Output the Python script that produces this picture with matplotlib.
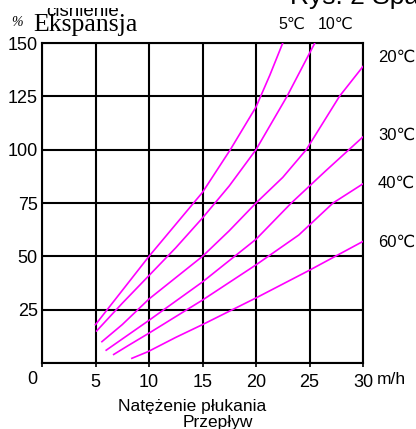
import matplotlib
matplotlib.use("Agg")
import matplotlib.pyplot as plt
from matplotlib.patches import Rectangle

# przepływ [m/h] vs ekspansja [%]
x_5c = [5.0, 7.5, 10.0, 12.5, 15.0, 17.6, 20.0, 21.3, 22.5]
y_5c = [18, 34, 50, 65, 80, 100, 120, 135, 150]
x_10c = [5.1, 7.5, 10.0, 12.5, 15.0, 17.5, 20.0, 22.9, 25.5]
y_10c = [15, 28, 41, 54, 68, 83, 100, 125, 150]
x_20c = [5.6, 7.5, 10.0, 12.5, 15.0, 17.5, 20.0, 22.5, 24.7, 27.8, 30.0]
y_20c = [10, 18, 30, 40, 50, 62, 75, 87, 100, 125, 139]
x_30c = [6.0, 8.0, 10.0, 15.0, 20.0, 23.3, 26.5, 30.0]
y_30c = [6, 13, 20, 38, 58, 75, 90, 106]
x_40c = [6.7, 8.0, 10.0, 15.0, 20.0, 24.0, 27.2, 30.0]
y_40c = [4, 8, 14, 29.5, 46, 60, 75, 84]
x_60c = [8.4, 9.9, 12.5, 15.0, 20.0, 25.0, 30.0]
y_60c = [2.2, 5.3, 12, 18, 30.5, 43.5, 57]

curves = [
    (x_5c, y_5c),
    (x_10c, y_10c),
    (x_20c, y_20c),
    (x_30c, y_30c),
    (x_40c, y_40c),
    (x_60c, y_60c),
]

x_ticks = [5, 10, 15, 20, 25, 30]
y_ticks = [25, 50, 75, 100, 125, 150]

SANS = ["Liberation Sans", "DejaVu Sans"]
SERIF = ["Liberation Serif", "DejaVu Serif"]
MAGENTA = "#ff00ff"

W, H = 416, 429


def fx(px):
    return px / W


def fy(py):
    return 1 - py / H


fig = plt.figure(figsize=(4.16, 4.29), dpi=100)
ax = fig.add_axes([fx(42), fy(363), fx(363) - fx(42), fy(43) - fy(363)])
ax.set_xlim(0, 30)
ax.set_ylim(0, 150)

for xs, ys in curves:
    ax.plot(xs, ys, color=MAGENTA, linewidth=1.2, zorder=3)

ax.set_xticks([0] + x_ticks)
ax.set_xticklabels([""] + [str(v) for v in x_ticks], family=SANS, fontsize=13)
ax.set_yticks([0] + y_ticks)
ax.set_yticklabels([""] + [str(v) for v in y_ticks], family=SANS, fontsize=13)
ax.tick_params(axis="x", direction="out", length=3, width=1.2, pad=5)
ax.tick_params(axis="y", length=0, pad=3)
ax.grid(True, color="black", linewidth=1.5)
for spine in ax.spines.values():
    spine.set_linewidth(1.5)
    spine.set_color("black")

# podpisy
fig.text(fx(32), fy(380), "0", family=SANS, fontsize=13, ha="center", va="center")
fig.text(fx(377), fy(380), "m/h", family=SANS, fontsize=12.5, ha="left", va="center")
fig.text(fx(192), fy(407), "Natężenie płukania", family=SANS, fontsize=12.5,
         ha="center", va="center")
fig.text(fx(218), fy(423), "Przepływ", family=SANS, fontsize=12.5,
         ha="center", va="center")

# częściowo zasłonięty napis nad "Ekspansja"
fig.text(fx(46), fy(16), "ciśnienie", family=SANS, fontsize=13.5,
         ha="left", va="baseline", zorder=1)
fig.patches.append(Rectangle((fx(30), fy(8)), fx(110), 8 / H,
                             transform=fig.transFigure, facecolor="white",
                             edgecolor="none", zorder=2))
fig.text(fx(33), fy(31), "Ekspansja", family=SERIF, fontsize=18.5,
         ha="left", va="baseline", zorder=3)
fig.text(fx(17), fy(26), "%", family=SERIF, fontsize=10, style="italic",
         ha="center", va="baseline", zorder=3)
fig.text(fx(290), fy(4), "Rys. 2 Spadek ciśnienia", family=SANS, fontsize=19,
         ha="left", va="baseline")

fig.text(fx(278), fy(29), "5℃", family=SANS, fontsize=11.5, ha="left", va="baseline")
fig.text(fx(318), fy(29), "10℃", family=SANS, fontsize=11.5, ha="left", va="baseline")
for label, py in [("20℃", 57), ("30℃", 135), ("40℃", 183), ("60℃", 242)]:
    fig.text(fx(378), fy(py), label, family=SANS, fontsize=12,
             ha="left", va="center")

fig.savefig("out.png", dpi=100)
